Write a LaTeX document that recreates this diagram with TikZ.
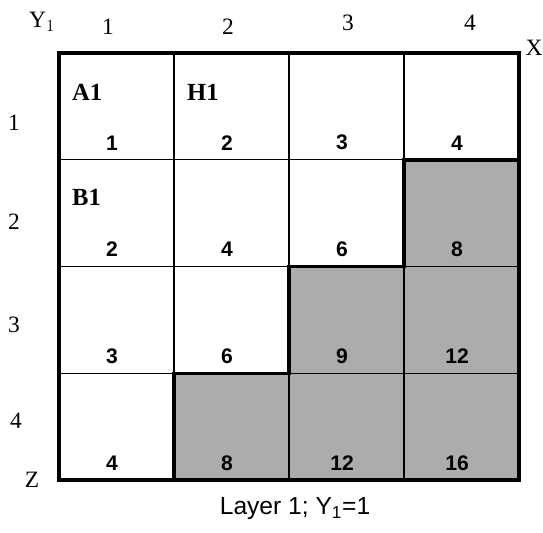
\documentclass[tikz,border=0pt]{standalone}
\usepackage{fontspec}
\setmainfont{Liberation Serif}
\setsansfont{Liberation Sans}
\usetikzlibrary{positioning}
\definecolor{cellgray}{RGB}{172,172,172}

\begin{document}
\begin{tikzpicture}[x=0.03cm, y=-0.03cm,
    cellnum/.style={font=\sffamily\bfseries\fontsize{18}{18}\selectfont, inner sep=0pt},
    cellname/.style={font=\bfseries\fontsize{21}{21}\selectfont, inner sep=0pt, anchor=west},
    axislab/.style={font=\fontsize{20}{20}\selectfont, inner sep=0pt},
    thinline/.style={line width=1pt},
    thickline/.style={line width=3pt, line join=miter}
]
    \useasboundingbox (0,0) rectangle (543,532);
    % grid corners
    \foreach \c in {0,...,4}
        \foreach \r in {0,...,4}
            \coordinate (g-\c-\r) at ({59+115*\c},{53+106.75*\r});
    % shaded cells
    \fill[cellgray] (g-3-1) rectangle (g-4-2);
    \fill[cellgray] (g-2-2) rectangle (g-4-3);
    \fill[cellgray] (g-1-3) rectangle (g-4-4);
    % thin grid
    \foreach \i in {1,2,3} {
        \draw[thinline] (g-\i-0) -- (g-\i-4);
        \draw[thinline] (g-0-\i) -- (g-4-\i);
    }
    % staircase and border
    \draw[thickline] (g-4-1) -- (g-3-1) -- (g-3-2) -- (g-2-2) -- (g-2-3) -- (g-1-3) -- (g-1-4);
    \draw[thickline] (g-0-0) rectangle (g-4-4);
    % cell numbers
    \foreach \r in {1,...,4}
        \foreach \c in {1,...,4} {
            \pgfmathtruncatemacro{\val}{\r*\c}
            \node[cellnum] (n-\r-\c) at ({59+115*\c-62},{53+106.75*\r-17}) {\val};
        }
    % cell names
    \node[cellname] (a1) at (72,92) {A1};
    \node[cellname] (h1) at (187,92) {H1};
    \node[cellname] (b1) at (72,197) {B1};
    % axis labels
    \node[axislab] (ylab) at (42,22) {Y$_1$};
    \node[axislab] (c1) at (108,27) {1};
    \node[axislab] (c2) at (228,27) {2};
    \node[axislab] (c3) at (348,23) {3};
    \node[axislab] (c4) at (470,23) {4};
    \node[axislab] (xlab) at (534,48) {X};
    \node[axislab] (r1) at (14,123) {1};
    \node[axislab] (r2) at (14,222) {2};
    \node[axislab] (r3) at (14,325) {3};
    \node[axislab] (r4) at (16,421) {4};
    \node[axislab] (zlab) at (32,480) {Z};
    % caption
    \node[font=\sffamily\fontsize{21}{21}\selectfont, inner sep=0pt] (cap) at (295,509) {Layer 1; Y\textsubscript{1}=1};
\end{tikzpicture}
\end{document}
